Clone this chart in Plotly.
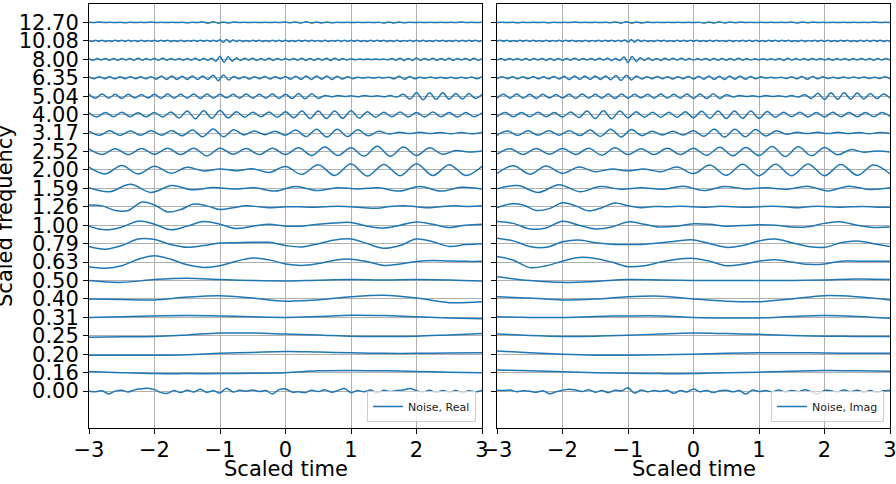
import numpy as np
import plotly.graph_objects as go

# ---------------- data (offsets from each row baseline, in hundredths of row spacing) -------------
FREQ_LABELS = ["0.00", "0.16", "0.20", "0.25", "0.31", "0.40", "0.50", "0.63", "0.79", "1.00",
               "1.26", "1.59", "2.00", "2.52", "3.17", "4.00", "5.04", "6.35", "8.00", "10.08", "12.70"]
TIME_TICKS = [-3, -2, -1, 0, 1, 2, 3]
PANEL_NAMES = ["Noise, Real", "Noise, Imag"]

# ---- Real part ----
REAL_000 = [0, -3, 2, -15, 0, 5, -5, 8, 12, 16, 8, -8, -12, 3, -8, 5, -5, 10, -6, 2, -10, 16, -5, 5, 0, 6, -2,
            3, -15, 8, 12, -5, -3, -8, 5, -2, 8, -6, 3, 14, -8, 3, -3, 6, -10, 5, -2, 4, 6, 14, 3, -5, 5, -8,
            4, -6, 3, -9, 2, -4, 4]
REAL_016 = [7, 0, -5, -5, -5, -3, 0, 10, 12, 10, 7, 3, 0]
REAL_020 = [-5, -5, -5, -2, 5, 10, 15, 12, 8, 5, 5, 7, 8]
REAL_025 = [-8, -5, -3, 5, 15, 15, 10, 5, -2, -3, -2, 5, 12]
REAL_031 = [0, 3, 8, 10, 8, 3, 0, 5, 12, 10, 3, -3, -7]
REAL_040 = [0, -3, -5, 10, 17, 5, -12, -5, 12, 20, 5, -20, -15]
REAL_050 = [0, -10, 5, 12, 5, 0, -2, 2, 5, 3, 5, 3, -3]
REAL_063 = [-25, -33, -20, 15, 34, 15, -15, -29, -20, 5, 22, 12, -10, -18, -8, 10, 16, 2, -18, -10, 3, 9, 6, 4, 4]
REAL_079 = [-15, -30, -10, 25, 22, -5, -20, -10, 3, 5, 7, 7, -10, -18, 0, 20, 25, 0, -25, -10, 25, 10, -15, -5, 0]
REAL_100 = [-5, -25, -10, 22, 5, -25, -5, 20, 5, -18, -5, 5, -5, -5, 5, 12, 15, -5, -15, 0, 18, 5, -12, 0, 5]
REAL_126 = [10, 5, -20, -20, 25, 10, -28, -15, 15, 5, -15, -5, 5, 0, -5, 0, 0, -3, 0, 3, 0, -5, -8, 2, 6, 0, -5,
            2, 5, 2, 5]
REAL_159 = [3, -18, 22, -22, 15, -8, 4, -4, 3, -15, 10, -12, 3, -3, 3, -15, 10, -15, 6, -3]
REAL_200 = [15, -22, 24, -22, 20, -18, 14, -6, 5, -4, 6, -14, 18, -24, 28, -30, 32, -33, 30, -32, 33, -30, 28,
            -30, 20]
REAL_252 = [14, -16, 15, -17, 16, -15, 17, -16, 18, -24, 18, -15, 16, -17, 18, -16, 20, -22, 24, -22, 20, -25,
            28, -26, 24, -22, 20, -15, 5, -3, 3]
REAL_317 = [11, -12, 12, -13, 11, -12, 13, -12, 14, -15, 17, -20, 22, -20, 18, -10, 11, -9, 10, -12, 16, -19,
            20, -21, 20, -19, 18, -15, 10, -5, 4, -3, 4, -3, 3, -4, 3, -4, 3]
REAL_400 = [10, -12, 11, -12, 13, -11, 10, -12, 12, -13, 14, -18, 20, -22, 21, -20, 22, -18, 15, -14, 13, -12,
            14, -15, 16, -17, 19, -21, 20, -21, 19, -20, 21, -19, 16, -14, 13, -12, 14, -13, 12, -13, 14, -12,
            11, -13, 12, -11, 10]
REAL_504 = [10, -11, 12, -11, 10, -12, 11, -10, 9, -10, 11, -12, 12, -11, 10, -11, 12, -13, 12, -11, 10, -9,
            10, -11, 12, -11, 10, -11, 12, -12, 11, -13, 14, -14, 13, -12, 4, -3, 3, -2, 2, -3, 3, -2, 2, -3,
            3, -5, 10, -16, 18, -19, 18, -17, 18, -16, 15, -16, 14, -12, 10]
REAL_635 = [5, -5, 6, -5, 5, -6, 5, -5, 6, -5, 5, -6, 6, -8, 9, -9, 10, -9, 8, -9, 10, -10, 9, -10, 14, -16,
            15, -12, 7, -6, 6, -7, 6, -6, 7, -7, 6, -6, 7, -8, 8, -9, 9, -10, 9, -8, 9, -9, 8, -7, 6, -5, 2,
            -2, 2, -2, 2, -2, 3, -6, 8, -8, 7, -6, 3, -3, 4, -3, 3, -3, 3, -4, 3, -3, 4, -6, 6]
REAL_800 = [4, -5, 5, -4, 5, -5, 4, -5, 5, -4, 5, -5, 6, -5, 4, -4, 5, -5, 6, -5, 5, -4, 4, -5, 5, -5, 6, -6,
            5, -5, 6, -10, 16, -16, 14, -10, 7, -6, 6, -5, 6, -6, 5, -5, 6, -6, 5, -4, 4, -4, 5, -5, 6, -6, 5,
            -5, 4, -5, 6, -7, 6, -5, 4, -4, 3, -3, 2, -2, 2, -2, 2, -2, 2, -3, 4, -5, 6, -6, 5, -6, 7, -6, 5,
            -5, 6, -6, 5, -5, 6, -6, 5, -4, 5, -6, 6, -5, 4]
REAL_1008 = [2, -3, 3, -2, 3, -3, 2, -3, 3, -2, 3, -3, 3, -2, 2, -3, 3, -3, 2, -2, 3, -3, 3, -2, 3, -3, 2, -3,
             3, -3, 2, -2, 3, -3, 3, -2, 3, -3, 3, -4, 6, -8, 8, -7, 5, -4, 3, -3, 2, -3, 3, -2, 3, -3, 2, -3,
             3, -3, 4, -4, 3, -3, 2, -3, 3, -2, 3, -3, 3, -2, 2, -3, 3, -3, 2, -2, 3, -3, 4, -3, 3, -2, 3, -3,
             2, -3, 3, -3, 3, -2, 3, -3, 2, -3, 3, -3, 2, -2, 3, -3, 3, -4, 3, -3, 2, -3, 3, -2, 3, -3, 2, -3,
             3, -3, 4, -3, 3, -2, 3, -3, 2]
REAL_1270 = [1, -1, 2, -1, 1, -1, 1, -2, 1, -1, 1, -1, 2, -1, 1, -1, 1, -1, 1, -2, 1, -1, 3, -4, 4, -4, 3, -3,
             2, -1, 1, -1, 1, -1, 1, -1, 1, -1, 2, -2, 3, -3, 4, -3, 3, -3, 2, -2, 1, -1, 1, -1, 1, -1, 1, -1,
             1, -3, 3, -3, 2, -2, 1, -1, 1, -1, 1, -1, 1, -1, 1, -1, 2, -1, 1, -1, 1]

# ---- Imaginary part ----
IMAG_000 = [5, 3, 6, -3, 2, 0, -6, 2, -14, -4, 5, 10, 6, -2, 8, -6, 4, -8, 5, 2, 18, -10, 6, -3, 3, -2, 5,
            -12, 4, -5, 12, -3, 4, -8, 2, 5, -4, 3, -16, 6, -2, 4, -4, 6, -5, 4, -3, 8, -4, -15, 4, 2, -5, 6,
            -3, 5, -6, 3, -8, 2, 3]
IMAG_016 = [15, 10, 5, 0, -3, -5, -5, 0, 3, 8, 12, 10, 8]
IMAG_020 = [18, 8, 0, -5, -5, -3, 0, 5, 8, 8, 7, 5, 5]
IMAG_025 = [10, 2, -3, -2, 3, 10, 15, 12, 8, 2, -2, -3, -3]
IMAG_031 = [3, 0, 0, 5, 8, 8, 0, -3, -3, 5, 10, 5, -5]
IMAG_040 = [12, 5, -5, 0, 12, 15, 0, -12, -15, 0, 18, 12, -5]
IMAG_050 = [20, 0, -10, -5, 5, 3, 0, 0, 0, 0, 3, 8, 5]
IMAG_063 = [30, 10, -30, -20, 5, 25, 20, 0, -25, -20, 0, 15, 20, 5, -20, -12, 5, 12, 0, -12, -10, 5, 5, 5, 5]
IMAG_079 = [30, 15, -15, -20, 10, 20, 5, -3, -5, -3, 5, 15, 20, 0, -20, -10, 15, 25, 5, -15, -20, 5, 15, 0, -15]
IMAG_100 = [20, 10, -20, -15, 22, 0, -20, -10, 18, 5, -10, -5, 8, 5, -5, -2, 2, 0, -10, -8, 10, 18, 0, -12, -10]
IMAG_126 = [-5, 15, 10, -20, -10, 22, 5, -22, -5, 20, 5, -5, 2, 0, 3, 0, -2, 3, 0, -3, 0, 3, 0, -5, 2, 2, -3,
            0, 2, -2, -2]
IMAG_159 = [-3, 15, -22, 20, -18, 10, -5, 3, -5, 12, -12, 10, -3, 3, -5, 12, -14, 12, -6, 3]
IMAG_200 = [-20, 23, -23, 21, -19, 16, -10, 5, -5, 5, -10, 16, -20, 26, -29, 31, -32, 31, -31, 32, -31, 29,
            -29, 26, -22]
IMAG_252 = [-15, 15, -16, 16, -15, 16, -16, 17, -20, 20, -17, 15, -17, 17, -17, 18, -21, 23, -23, 21, -22,
            27, -27, 25, -23, 21, -18, 10, -4, 3, -3]
IMAG_317 = [-12, 11, -13, 12, -12, 13, -12, 13, -14, 16, -18, 21, -21, 19, -14, 10, -10, 10, -11, 13, -18,
            20, -21, 20, -20, 19, -16, 12, -6, 4, -3, 4, -3, 4, -3, 3, -4, 3, -3]
IMAG_400 = [-11, 12, -12, 11, -12, 13, -11, 11, -13, 14, -16, 19, -21, 21, -22, 20, -18, 16, -14, 13, -14,
            13, -15, 15, -17, 18, -20, 20, -21, 20, -20, 19, -20, 17, -15, 13, -12, 13, -13, 12, -13, 13, -12,
            12, -12, 12, -11, 11, -10]
IMAG_504 = [-11, 10, -11, 12, -11, 10, -12, 11, -10, 9, -10, 11, -12, 12, -11, 10, -11, 12, -13, 12, -11, 10,
            -9, 10, -11, 12, -11, 10, -11, 12, -12, 12, -13, 13, -12, 8, -4, 3, -2, 2, -3, 3, -2, 2, -3, 3,
            -5, 8, -12, 16, -18, 18, -17, 18, -16, 17, -15, 14, -13, 12, -10]
IMAG_635 = [-5, 6, -5, 5, -6, 5, -5, 6, -6, 5, -6, 7, -7, 8, -10, 9, -10, 9, -10, 10, -9, 10, -11, 12, -15,
            14, -12, 9, -7, 6, -6, 7, -6, 6, -7, 6, -6, 7, -7, 8, -8, 9, -9, 8, -9, 9, -8, 9, -8, 7, -6, 5,
            -2, 2, -2, 3, -4, 5, -6, 7, -8, 7, -6, 5, -4, 3, -4, 4, -3, 4, -3, 4, -4, 3, -4, 5, -6]
IMAG_800 = [-5, 4, -5, 5, -4, 5, -5, 4, -5, 5, -4, 5, -6, 5, -5, 4, -5, 5, -5, 6, -5, 5, -4, 5, -5, 6, -5, 6,
            -6, 5, -7, 12, -17, 15, -12, 9, -6, 7, -6, 5, -6, 6, -5, 6, -5, 6, -5, 4, -4, 4, -4, 5, -6, 5, -5,
            4, -5, 4, -5, 6, -5, 4, -4, 3, -3, 3, -3, 3, -4, 5, -6, 6, -5, 4, -4, 4, -5, 5, -4, 5, -4, 4, -5,
            4, -4, 5, -5, 4, -4, 5, -4, 4, -5, 4, -4, 5, -4]
IMAG_1008 = [-3, 3, -2, 3, -3, 2, -3, 3, -2, 3, -3, 3, -2, 2, -3, 3, -3, 2, -2, 3, -3, 3, -2, 3, -3, 2, -3, 3,
             -3, 2, -2, 3, -3, 3, -2, 3, -3, 3, -3, 5, -7, 8, -7, 6, -4, 3, -3, 2, -3, 3, -2, 3, -3, 2, -3, 3,
             -3, 4, -3, 3, -2, 3, -3, 2, -3, 3, -3, 3, -2, 2, -3, 3, -3, 2, -2, 3, -3, 3, -3, 4, -3, 2, -3, 3,
             -2, 3, -3, 3, -2, 3, -3, 2, -3, 3, -3, 2, -2, 3, -3, 3, -4, 3, -3, 2, -3, 3, -2, 3, -3, 2, -3, 3,
             -3, 4, -3, 3, -2, 3, -3, 2, -2]
IMAG_1270 = [-1, 1, -1, 1, -2, 1, -1, 1, -1, 1, -2, 1, -1, 1, -1, 2, -1, 1, -1, 1, -1, 1, -2, 3, -4, 4, -4,
             3, -3, 2, -1, 1, -1, 1, -1, 1, -1, 1, -1, 1, -3, 3, -3, 4, -3, 3, -2, 2, -1, 1, -1, 1, -1, 1,
             -1, 1, -1, 2, -3, 3, -2, 2, -1, 1, -1, 1, -1, 1, -1, 1, -1, 1, -1, 2, -1, 1, -1]

REAL_ROWS = [REAL_000, REAL_016, REAL_020, REAL_025, REAL_031, REAL_040, REAL_050, REAL_063, REAL_079,
             REAL_100, REAL_126, REAL_159, REAL_200, REAL_252, REAL_317, REAL_400, REAL_504, REAL_635,
             REAL_800, REAL_1008, REAL_1270]
IMAG_ROWS = [IMAG_000, IMAG_016, IMAG_020, IMAG_025, IMAG_031, IMAG_040, IMAG_050, IMAG_063, IMAG_079,
             IMAG_100, IMAG_126, IMAG_159, IMAG_200, IMAG_252, IMAG_317, IMAG_400, IMAG_504, IMAG_635,
             IMAG_800, IMAG_1008, IMAG_1270]

# ---------------- figure ----------------
W, H = 896, 484
LINE_COLOR = "#1f77b4"
FONT = "DejaVu Sans"

fig = go.Figure()
for panel, rows in enumerate([REAL_ROWS, IMAG_ROWS]):
    xa = "x" if panel == 0 else "x2"
    ya = "y" if panel == 0 else "y2"
    for idx, vals in enumerate(rows):
        t = np.linspace(-3, 3, len(vals))
        y = idx + np.asarray(vals, dtype=float) / 100.0
        fig.add_trace(go.Scatter(
            x=t, y=y, mode="lines", xaxis=xa, yaxis=ya,
            line=dict(color=LINE_COLOR, width=1.5, shape="spline", smoothing=1.0),
            name=PANEL_NAMES[panel] if idx == 0 else "",
            showlegend=(idx == 0),
            legend="legend" if panel == 0 else "legend2",
            hoverinfo="skip",
        ))

L_DOM = [89 / W, 482 / W]
R_DOM = [497 / W, 890 / W]
Y_DOM = [1 - 428 / H, 1 - 4 / H]

axis_common = dict(
    showline=True, mirror=True, linecolor="black", linewidth=1,
    ticks="outside", ticklen=5, tickwidth=1, tickcolor="black",
    showgrid=True, gridcolor="#b0b0b0", gridwidth=0.8, zeroline=False,
    tickfont=dict(family=FONT, size=21, color="black"),
    automargin=False, ticklabeloverflow="allow",
)

fig.update_layout(
    width=W, height=H,
    margin=dict(l=0, r=0, t=0, b=0, pad=0, autoexpand=False),
    plot_bgcolor="white", paper_bgcolor="white",
    font=dict(family=FONT, color="black"),
    xaxis=dict(domain=L_DOM, range=[-3, 3], tickvals=TIME_TICKS, anchor="y", ticklabelstandoff=-2,
               **axis_common),
    xaxis2=dict(domain=R_DOM, range=[-3, 3], tickvals=TIME_TICKS, anchor="y2", ticklabelstandoff=-2,
                **axis_common),
    yaxis=dict(domain=Y_DOM, range=[-2, 21], tickvals=list(range(len(FREQ_LABELS))),
               ticktext=FREQ_LABELS, anchor="x", **axis_common),
    yaxis2=dict(domain=Y_DOM, range=[-2, 21], tickvals=list(range(len(FREQ_LABELS))),
                showticklabels=False, anchor="x2", **axis_common),
    legend=dict(x=476 / W, y=1 - 422 / H, xanchor="right", yanchor="bottom",
                bgcolor="rgba(255,255,255,0.8)", bordercolor="#cccccc", borderwidth=1,
                font=dict(family=FONT, size=11, color="#222"), itemwidth=30,
                tracegroupgap=0),
    legend2=dict(x=884 / W, y=1 - 422 / H, xanchor="right", yanchor="bottom",
                 bgcolor="rgba(255,255,255,0.8)", bordercolor="#cccccc", borderwidth=1,
                 font=dict(family=FONT, size=11, color="#222"), itemwidth=30,
                 tracegroupgap=0),
    annotations=[
        dict(text="Scaled time", x=(L_DOM[0] + L_DOM[1]) / 2, y=1 - 469 / H, xref="paper", yref="paper",
             xanchor="center", yanchor="middle", showarrow=False, font=dict(family=FONT, size=21)),
        dict(text="Scaled time", x=(R_DOM[0] + R_DOM[1]) / 2, y=1 - 469 / H, xref="paper", yref="paper",
             xanchor="center", yanchor="middle", showarrow=False, font=dict(family=FONT, size=21)),
        dict(text="Scaled frequency", x=5 / W, y=1 - 216 / H, xref="paper", yref="paper",
             xanchor="center", yanchor="middle", textangle=-90, showarrow=False,
             font=dict(family=FONT, size=21)),
    ],
)

fig.write_html("out.html")
